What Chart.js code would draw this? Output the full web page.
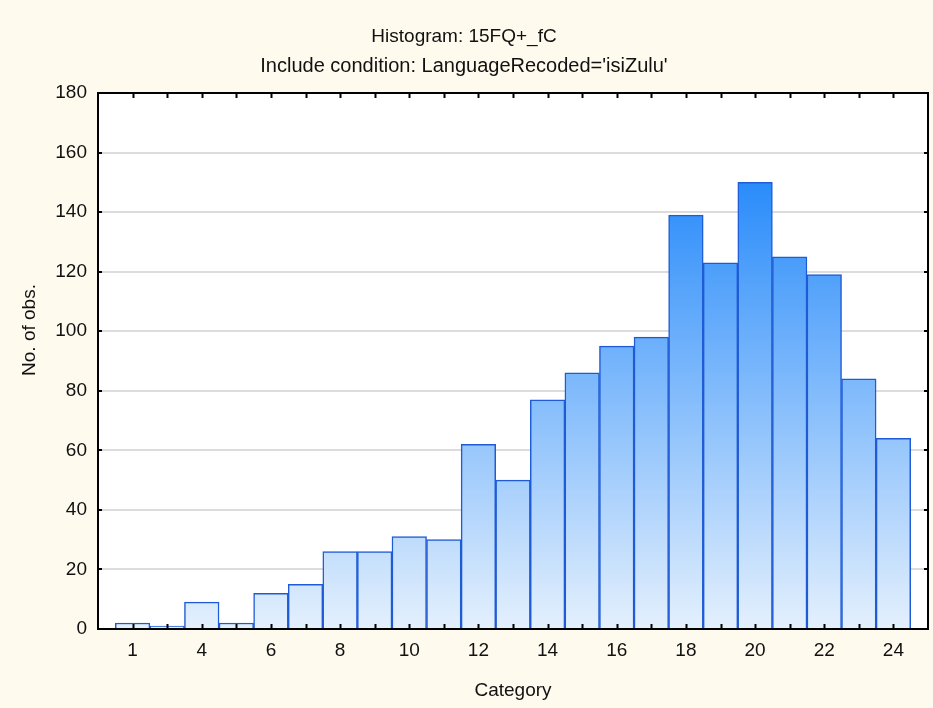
<!DOCTYPE html>
<html>
<head>
    <title>Histogram: 15FQ+_fC</title>
    <script src="https://cdn.jsdelivr.net/npm/chart.js"></script>
    <style>
        body { margin: 0; background: #fffaee; }
        .chart-container { width: 933px; height: 708px; }
    </style>
</head>
<body>
    <div class="chart-container">
        <canvas id="chart"></canvas>
    </div>
    <script>
    // categories shown on the x axis (every other one gets a label)
    var categories = ["1", "3", "4", "5", "6", "7", "8", "9", "10", "11", "12", "13",
        "14", "15", "16", "17", "18", "19", "20", "21", "22", "23", "24"];
    // number of observations per category
    var counts = [2, 1, 9, 2, 12, 15, 26, 26, 31, 30, 62, 50,
        77, 86, 95, 98, 139, 123, 150, 125, 119, 84, 64];
    var yTicks = [0, 20, 40, 60, 80, 100, 120, 140, 160, 180];

    var font = "'Liberation Sans', Arial, sans-serif";
    var fontSize = 19;

    // white plot area, black frame with inward ticks, y axis title
    var framePlugin = {
        id: "frame",
        beforeDraw: function(chart) {
            var a = chart.chartArea, ctx = chart.ctx;
            ctx.save();
            ctx.fillStyle = "#ffffff";
            ctx.fillRect(a.left, a.top, a.right - a.left, a.bottom - a.top);
            ctx.restore();
        },
        afterDatasetsDraw: function(chart) {
            var a = chart.chartArea, ctx = chart.ctx;
            var x = chart.scales.x, y = chart.scales.y;
            ctx.save();
            ctx.strokeStyle = "#000000";
            ctx.lineWidth = 2;
            ctx.beginPath();
            for (var i = 0; i < categories.length; i++) {
                var px = Math.round(x.getPixelForValue(i)) + 0.5;
                ctx.moveTo(px, a.bottom); ctx.lineTo(px, a.bottom - 5);
                ctx.moveTo(px, a.top); ctx.lineTo(px, a.top + 5);
            }
            yTicks.forEach(function(v) {
                var py = Math.round(y.getPixelForValue(v));
                ctx.moveTo(a.left, py); ctx.lineTo(a.left + 4, py);
                ctx.moveTo(a.right, py); ctx.lineTo(a.right - 4, py);
            });
            ctx.stroke();
            ctx.strokeRect(a.left, a.top, a.right - a.left, a.bottom - a.top);

            // y axis title, sits a little above the plot centre like the original
            ctx.translate(30, 330);
            ctx.rotate(-Math.PI / 2);
            ctx.fillStyle = "#111111";
            ctx.font = fontSize + "px " + font;
            ctx.textAlign = "center";
            ctx.textBaseline = "middle";
            ctx.fillText("No. of obs.", 0, 0);
            ctx.restore();
        }
    };

    function barFill(context) {
        var chart = context.chart;
        if (!chart.chartArea) return "#8cc4fa";
        var y = chart.scales.y;
        var g = chart.ctx.createLinearGradient(0, y.getPixelForValue(0), 0, y.getPixelForValue(150));
        g.addColorStop(0, "#e4f0fd");
        g.addColorStop(1, "#2a8cfa");
        return g;
    }

    var chart = new Chart(document.getElementById("chart"), {
        type: "bar",
        data: {
            datasets: [{
                label: "No. of obs.",
                data: counts.map(function(v, i) { return { x: i, y: v }; }),
                backgroundColor: barFill,
                borderColor: "#1f5bd6",
                borderWidth: 1.5,
                barPercentage: 1,
                categoryPercentage: 1
            }]
        },
        options: {
            responsive: true,
            maintainAspectRatio: false,
            animation: false,
            layout: { padding: { left: 0, right: 5, top: 0, bottom: 0 } },
            plugins: {
                legend: { display: false },
                tooltip: { enabled: false },
                title: {
                    display: true,
                    text: "Histogram: 15FQ+_fC",
                    color: "#111111",
                    font: { family: font, size: fontSize, weight: "normal" },
                    padding: { top: 25.6, bottom: 5.6 }
                },
                subtitle: {
                    display: true,
                    text: "Include condition: LanguageRecoded='isiZulu'",
                    color: "#111111",
                    font: { family: font, size: 20 },
                    padding: { top: 0, bottom: 15 }
                }
            },
            scales: {
                x: {
                    type: "linear",
                    offset: false,
                    min: -1,
                    max: 23,
                    grid: { display: false, drawTicks: false },
                    border: { display: false },
                    ticks: {
                        stepSize: 1,
                        autoSkip: false,
                        maxRotation: 0,
                        padding: 10,
                        color: "#111111",
                        font: { family: font, size: fontSize },
                        callback: function(value) {
                            if (value >= 0 && value % 2 === 0) return categories[value];
                            return "";
                        }
                    },
                    title: {
                        display: true,
                        text: "Category",
                        color: "#111111",
                        font: { family: font, size: fontSize },
                        padding: { top: 0, bottom: 6 }
                    },
                    afterFit: function(scale) {
                        scale.height = 79;
                        scale.paddingLeft = 0;
                        scale.paddingRight = 0;
                    }
                },
                y: {
                    min: 0,
                    max: 180,
                    grid: { color: "#dcdcdc", lineWidth: 2, drawTicks: false },
                    border: { display: false },
                    ticks: {
                        stepSize: 20,
                        padding: 11,
                        color: "#111111",
                        font: { family: font, size: fontSize }
                    },
                    afterFit: function(scale) { scale.width = 98; }
                }
            }
        },
        plugins: [framePlugin]
    });
    </script>
</body>
</html>
